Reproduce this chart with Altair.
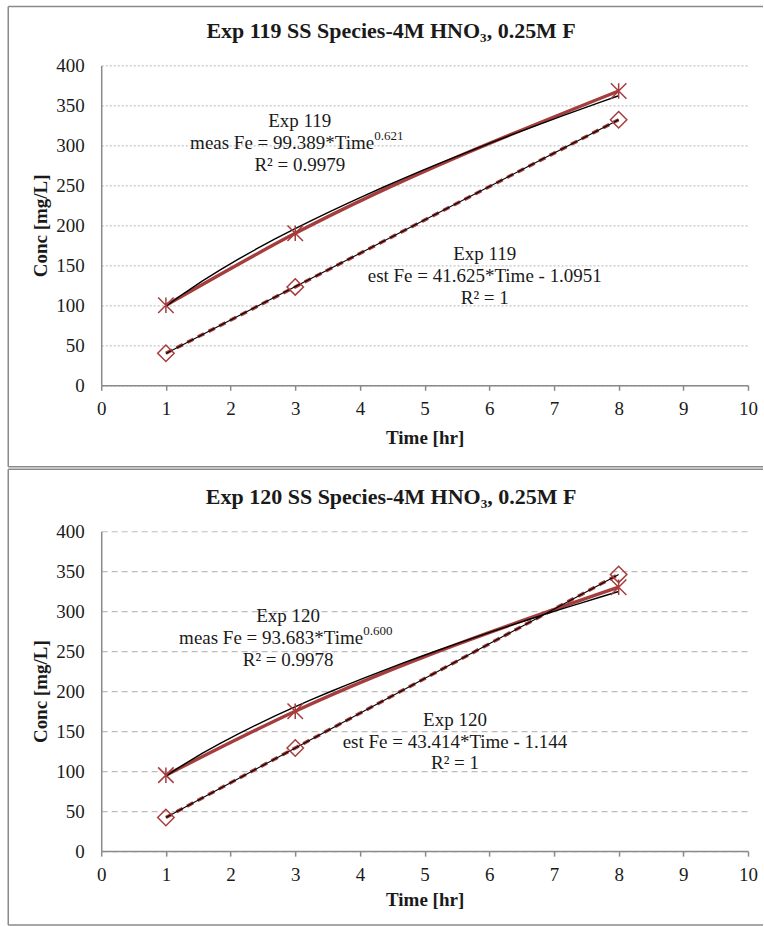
import altair as alt
import pandas as pd

# ---- data ----
time_hr = [1, 3, 8]
meas_119 = [100, 190, 368]
est_119 = [40, 123, 332]
meas_120 = [95, 175, 330]
est_120 = [42, 129, 346]

titles = ["Exp 119 SS Species-4M HNO\u2083, 0.25M F",
          "Exp 120 SS Species-4M HNO\u2083, 0.25M F"]
meas_text_119 = ["Exp 119", "meas Fe = 99.389*Time", "0.621", "R\u00b2 = 0.9979"]
est_text_119 = ["Exp 119", "est Fe = 41.625*Time  - 1.0951", "R\u00b2 = 1"]
meas_text_120 = ["Exp 120", "meas Fe = 93.683*Time", "0.600", "R\u00b2 = 0.9978"]
est_text_120 = ["Exp 120", "est Fe = 43.414*Time  - 1.144", "R\u00b2 = 1"]
x_ticks = list(range(0, 11))
y_ticks = list(range(0, 401, 50))

RED = "#A63D3D"
FONT = "Liberation Serif, Times New Roman, serif"
GRAY = "#8a8a8a"
STAR = "M-1,-1L1,1M-1,1L1,-1M0,-1L0,1"


def one():
    return pd.DataFrame({"k": [0]})


def make_axes(grid_dash, grid_color, xtitle_y):
    xs = alt.Scale(domain=[0, 10], nice=False)
    ys = alt.Scale(domain=[0, 400], nice=False)
    xa = alt.Axis(values=x_ticks, format="d", labelOverlap=False, title="Time [hr]", grid=False,
                  domainColor=GRAY, domainWidth=1.5, tickColor=GRAY,
                  tickSize=5, tickWidth=1.5, labelFont=FONT, labelFontSize=19,
                  labelColor="#1a1a1a", labelPadding=9, labelFlush=False,
                  titleFont=FONT, titleFontSize=19, titleFontWeight="bold",
                  titleColor="#1a1a1a", titleY=xtitle_y, titleBaseline="middle")
    ya = alt.Axis(values=y_ticks, format="d", labelOverlap=False, title="Conc [mg/L]", grid=True,
                  gridDash=grid_dash, gridColor=grid_color, gridWidth=1.2, tickCount=9,
                  ticks=False, domainColor=GRAY, domainWidth=1.5,
                  labelFont=FONT, labelFontSize=19, labelColor="#1a1a1a",
                  labelPadding=17, labelFlush=False, titleFont=FONT, titleFontSize=19,
                  titleFontWeight="bold", titleColor="#1a1a1a",
                  titleX=-61, titleY=160, titleAlign="center", titleBaseline="middle")
    return xs, ys, xa, ya


def panel(meas, est, title, mt, et, mpos, epos, sup_x, grid_dash, grid_color,
          border_top, border_bottom, xtitle_y):
    xs, ys, xa, ya = make_axes(grid_dash, grid_color, xtitle_y)
    X = alt.X("time:Q", scale=xs, axis=xa)
    Y = alt.Y("conc:Q", scale=ys, axis=ya)

    def txt(label, xv, yv, size=19, align="center", dy=0):
        return alt.Chart(pd.DataFrame({"label": [label]})).mark_text(
            font=FONT, fontSize=size, align=align, baseline="middle", color="#1a1a1a", dy=dy
        ).encode(x=alt.X(datum=xv, scale=xs, axis=xa), y=alt.Y(datum=yv, scale=ys, axis=ya),
                 text="label:N")

    dm = pd.DataFrame({"time": time_hr, "conc": meas})
    de = pd.DataFrame({"time": time_hr, "conc": est})
    meas_line = alt.Chart(dm).mark_line(color=RED, strokeWidth=3.4, interpolate="monotone").encode(x=X, y=Y)
    est_line = alt.Chart(de).mark_line(color=RED, strokeWidth=3.4, strokeDash=[7, 5]).encode(x=X, y=Y)
    meas_fit = alt.Chart(dm).transform_regression("time", "conc", method="pow").mark_line(
        color="black", strokeWidth=1.4).encode(x=X, y=Y)
    est_fit = alt.Chart(de).transform_regression("time", "conc", method="linear").mark_line(
        color="black", strokeWidth=1.1).encode(x=X, y=Y)
    meas_pts = alt.Chart(dm).mark_point(shape=STAR, size=240, filled=False, color=RED,
                                        strokeWidth=1.5, opacity=1).encode(x=X, y=Y)
    est_pts = alt.Chart(de).mark_point(shape="diamond", size=270, filled=False, color=RED,
                                       strokeWidth=1.5, opacity=1).encode(x=X, y=Y)
    texts = [
        txt(mt[0], mpos[0], mpos[1]),
        txt(mt[1], sup_x, mpos[2], align="right"),
        txt(mt[2], sup_x, mpos[2], size=13, align="left", dy=-7),
        txt(mt[3], mpos[0], mpos[3]),
        txt(et[0], epos[0], epos[1]),
        txt(et[1], epos[0], epos[2]),
        txt(et[2], epos[0], epos[3]),
    ]
    ttl = alt.Chart(pd.DataFrame({"label": [title]})).mark_text(
        font=FONT, fontSize=22, fontWeight="bold", align="center", baseline="alphabetic",
        color="#1a1a1a").encode(x=alt.value(290), y=alt.value(-27), text="label:N")
    borders = [
        alt.Chart(one()).mark_rule(color=GRAY, strokeWidth=1.5).encode(
            x=alt.value(-93), x2=alt.value(662), y=alt.value(border_top)),
        alt.Chart(one()).mark_rule(color=GRAY, strokeWidth=1.5).encode(
            x=alt.value(-93), y=alt.value(border_top), y2=alt.value(border_bottom)),
    ]
    if border_bottom < 400 + 10:
        borders.append(alt.Chart(one()).mark_rule(color=GRAY, strokeWidth=1.5).encode(
            x=alt.value(-93), x2=alt.value(662), y=alt.value(border_bottom)))
    return alt.layer(meas_line, est_line, meas_fit, est_fit, meas_pts, est_pts,
                     *texts, ttl, *borders).properties(width=647, height=320)


top = panel(meas_119, est_119, titles[0], meas_text_119, est_text_119,
            (3.07, 331, 302.5, 275.5), (5.93, 164, 137, 109), 4.22,
            [2, 2], "#c4c4c4", -59, 401.5, 52)
bottom = panel(meas_120, est_120, titles[1], meas_text_120, est_text_120,
               (2.89, 294, 266, 238.5), (5.47, 164, 137, 110.5), 4.05,
               [6, 4], "#bdbdbd", -62, 394, 48)

chart = alt.vconcat(top, bottom, spacing=0).properties(
    padding={"left": 7.25, "top": 5.25, "right": 0, "bottom": 0}
).configure_view(stroke=None)

chart.save("out.html", embed_options={"renderer": "svg", "actions": False})
